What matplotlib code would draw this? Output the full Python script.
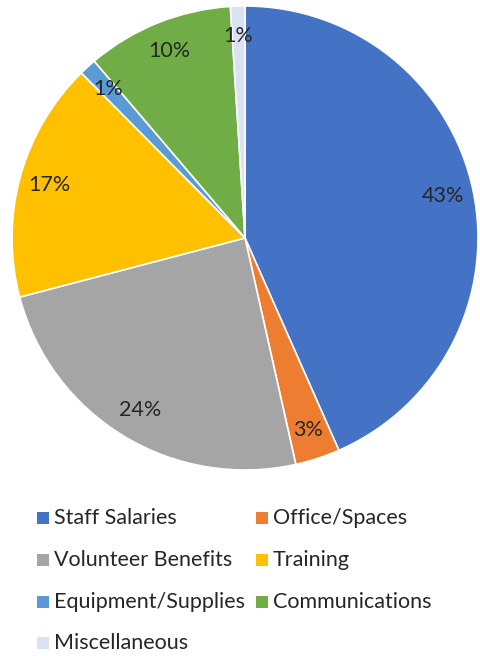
import matplotlib
matplotlib.use("Agg")
import matplotlib.pyplot as plt
from matplotlib.patches import Rectangle

categories = ["Staff Salaries", "Office/Spaces", "Volunteer Benefits", "Training",
              "Equipment/Supplies", "Communications", "Miscellaneous"]
shares = [43.4, 3.1, 24.4, 16.7, 1.2, 10.2, 1.0]
colors = ["#4472C4", "#ED7D31", "#A5A5A5", "#FFC000", "#5B9BD5", "#70AD47", "#D9E1F2"]

plt.rcParams["font.family"] = ["Lato", "DejaVu Sans"]

W, H = 481, 656
fig = plt.figure(figsize=(W / 100, H / 100), dpi=100)
fig.patch.set_facecolor("white")

cx, cy, rx, ry = 245, 238, 233, 232
ax = fig.add_axes([(cx - rx) / W, (H - cy - ry) / H, 2 * rx / W, 2 * ry / H])
wedges, texts, autotexts = ax.pie(
    shares, colors=colors, startangle=90, counterclock=False,
    autopct="%.0f%%", pctdistance=0.87, radius=1.0,
    wedgeprops=dict(edgecolor="white", linewidth=1.2),
    textprops=dict(fontsize=15.5, color="#262626"),
)
ax.set_xlim(-1, 1)
ax.set_ylim(-1, 1)
ax.set_aspect("auto")
ax.axis("off")

# Legend laid out in two columns beneath the pie
col_x = [37, 256]
row_y = [518, 560, 602, 643]
box = 12
for i, (name, c) in enumerate(zip(categories, colors)):
    x = col_x[i % 2]
    y = row_y[i // 2]
    fig.patches.append(Rectangle((x / W, (H - y - box / 2) / H), box / W, box / H,
                                 transform=fig.transFigure, facecolor=c, edgecolor="none"))
    fig.text((x + box + 5) / W, (H - y) / H, name, fontsize=15.5, color="#262626",
             va="center", ha="left")

fig.savefig("out.png", dpi=100, facecolor="white")
